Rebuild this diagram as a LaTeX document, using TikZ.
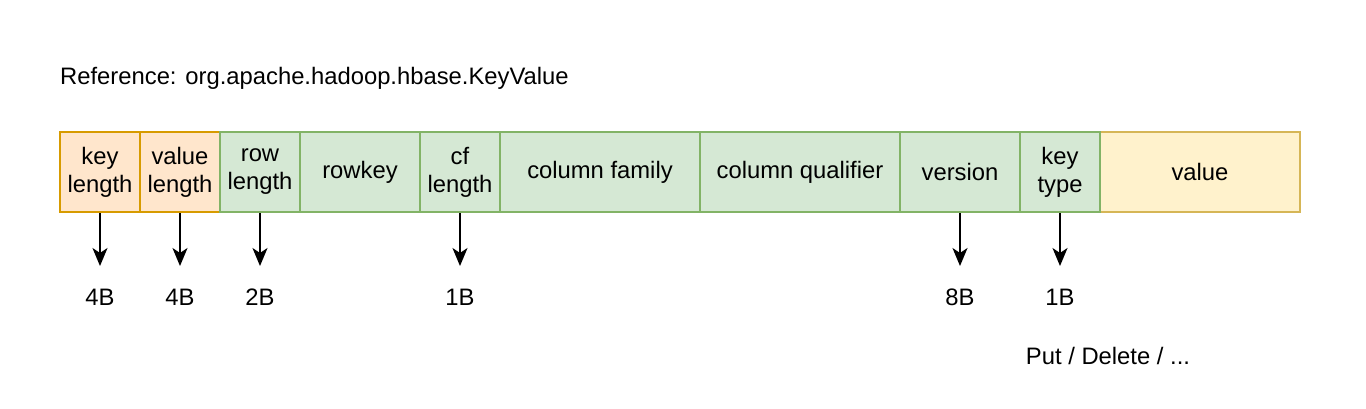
\documentclass[tikz,border=0pt]{standalone}
\usepackage{fontspec}
\setmainfont{Liberation Sans}
\usetikzlibrary{arrows.meta}
\definecolor{ofill}{HTML}{FFE6CC}
\definecolor{oline}{HTML}{D79B00}
\definecolor{gfill}{HTML}{D5E8D4}
\definecolor{gline}{HTML}{82B366}
\definecolor{yfill}{HTML}{FFF2CC}
\definecolor{yline}{HTML}{D6B656}
\begin{document}
\begin{tikzpicture}[x=1pt,y=-1pt,
  every node/.style={font=\fontsize{23.8}{28}\selectfont, align=center, inner sep=0pt},
  field/.style={draw, line width=2pt, minimum height=80pt},
  obox/.style={field, fill=ofill, draw=oline},
  gbox/.style={field, fill=gfill, draw=gline},
  ybox/.style={field, fill=yfill, draw=yline},
  arr/.style={line width=2pt, -{Stealth[length=18pt,width=15pt,inset=5pt]}}
]
\useasboundingbox (0,0) rectangle (1366,408);
% title
\node[anchor=west] (title) at (60,78) {Reference: org.apache.hadoop.hbase.KeyValue};
% boxes
\node[obox, minimum width=80pt] (kl) at (100,172) {key\\length};
\node[obox, minimum width=80pt] (vl) at (180,172) {value\\length};
\node[ybox, minimum width=200pt] (val) at (1200,172) {value};
\node[gbox, minimum width=80pt] (rl) at (260,172) {row\\length};
\node[gbox, minimum width=120pt] (rk) at (360,172) {rowkey};
\node[gbox, minimum width=80pt] (cfl) at (460,172) {cf\\length};
\node[gbox, minimum width=200pt] (cf) at (600,172) {column family};
\node[gbox, minimum width=200pt] (cq) at (800,172) {column qualifier};
\node[gbox, minimum width=120pt] (ver) at (960,172) {version};
\node[gbox, minimum width=80pt] (kt) at (1060,172) {key\\type};
% arrow ends
\coordinate (e1) at (100,266);
\coordinate (e2) at (180,266);
\coordinate (e3) at (260,266);
\coordinate (e4) at (460,266);
\coordinate (e5) at (960,266);
\coordinate (e6) at (1060,266);
\draw[arr] (kl.south) -- (e1);
\draw[arr] (vl.south) -- (e2);
\draw[arr] (rl.south) -- (e3);
\draw[arr] (cfl.south) -- (e4);
\draw[arr] (ver.south) -- (e5);
\draw[arr] (kt.south) -- (e6);
% labels
\node (l1) at (100,297) {4B};
\node (l2) at (180,297) {4B};
\node (l3) at (260,297) {2B};
\node (l4) at (460,297) {1B};
\node (l5) at (960,297) {8B};
\node (l6) at (1060,297) {1B};
\node (put) at (1108,356) {Put / Delete / ...};
\end{tikzpicture}
\end{document}
